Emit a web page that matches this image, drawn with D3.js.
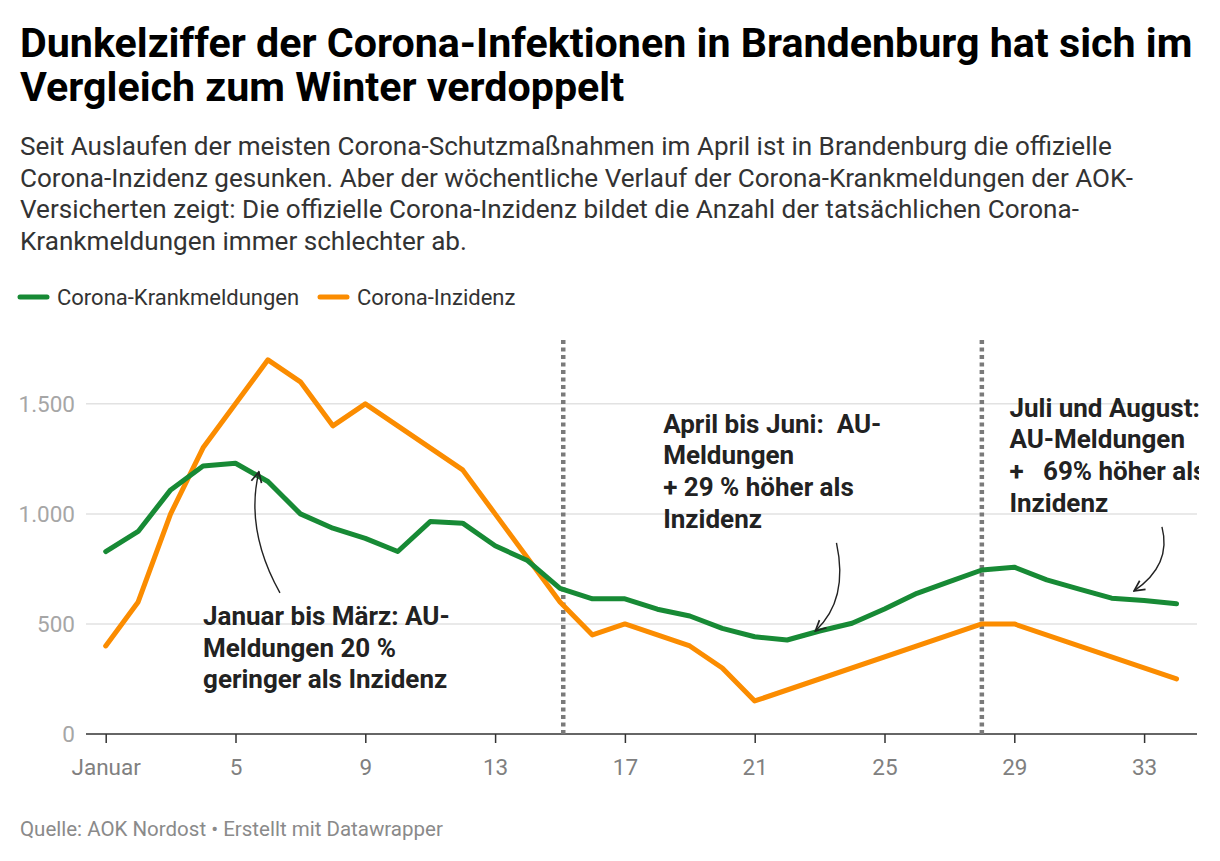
<!DOCTYPE html>
<html>
<head>
<meta charset="utf-8">
<script src="https://cdn.jsdelivr.net/npm/d3@7"></script>
<style>
  body { margin: 0; background: #fff; }
  svg { display: block; font-family: Roboto, "Noto Sans", sans-serif; }
</style>
</head>
<body>
<svg id="chart" width="1220" height="861"></svg>
<script>
// ─── Data ───
const weeks = [1,2,3,4,5,6,7,8,9,10,11,12,13,14,15,16,17,18,19,20,21,22,23,24,25,26,27,28,29,30,31,32,33,34];
const krankmeldungen = [829,920,1109,1218,1230,1147,1000,935,889,829,965,958,855,788,662,614,614,567,536,480,442,427,468,503,568,639,692,745,758,700,658,617,606,592];
const inzidenz = [400,600,1000,1300,1500,1700,1600,1400,1500,null,null,1200,1000,null,600,450,500,null,400,300,150,null,null,null,null,null,null,500,500,null,null,null,null,250];
const xTicks = [1,5,9,13,17,21,25,29,33];
const yTicks = [0,500,1000,1500];
const phaseBreaks = [15.1, 28];

const titleLines = ["Dunkelziffer der Corona-Infektionen in Brandenburg hat sich im", "Vergleich zum Winter verdoppelt"];
const subtitleLines = [
  "Seit Auslaufen der meisten Corona-Schutzmaßnahmen im April ist in Brandenburg die offizielle",
  "Corona-Inzidenz gesunken. Aber der wöchentliche Verlauf der Corona-Krankmeldungen der AOK-",
  "Versicherten zeigt: Die offizielle Corona-Inzidenz bildet die Anzahl der tatsächlichen Corona-",
  "Krankmeldungen immer schlechter ab."
];
const series = [
  { name: "Corona-Krankmeldungen", values: krankmeldungen, color: "#178a35" },
  { name: "Corona-Inzidenz", values: inzidenz, color: "#fb8c00" }
];
// annotations: text anchor + arrow (start, control, tip) in week / value units
const annotations = [
  { lines: ["Januar bis März: AU-", "Meldungen 20 %", "geringer als Inzidenz"], at: [4.0, 495],
    arrow: [[6.37, 641], [5.29, 927], [5.72, 1191]] },
  { lines: ["April bis Juni:  AU-", "Meldungen", "+ 29 % höher als", "Inzidenz"], at: [18.18, 1368],
    arrow: [[23.52, 868], [23.9, 609], [22.87, 468]] },
  { lines: ["Juli und August:", "AU-Meldungen", "+   69% höher als", "Inzidenz"], at: [28.85, 1441],
    arrow: [[33.55, 941], [33.86, 768], [32.69, 650]] }
];

const svg = d3.select("#chart");

// ─── Header ───
svg.append("g").selectAll("text").data(titleLines).enter().append("text")
  .attr("x", 20).attr("y", (d, i) => 57 + i * 44)
  .attr("font-size", 41.2).attr("font-weight", 700).attr("fill", "#000")
  .text(d => d);

svg.append("g").selectAll("text").data(subtitleLines).enter().append("text")
  .attr("x", 20).attr("y", (d, i) => 155 + i * 31.7)
  .attr("font-size", 26.1).attr("fill", "#333")
  .text(d => d);

// ─── Legend ───
const legendX = [20, 320];
const legend = svg.append("g").selectAll("g").data(series).enter().append("g")
  .attr("transform", (d, i) => `translate(${legendX[i]},297)`);
legend.append("line")
  .attr("x1", 0).attr("x2", 27)
  .attr("stroke", d => d.color).attr("stroke-width", 5).attr("stroke-linecap", "round");
legend.append("text")
  .attr("x", 37).attr("y", 8)
  .attr("font-size", 22).attr("fill", "#333")
  .text(d => d.name);

// ─── Scales ───
const x = d3.scaleLinear().domain([1, 34]).range([105.7, 105.7 + 33 * 32.45]);
const y = d3.scaleLinear().domain([0, 1790]).range([734, 340]);
const plotLeft = 86, plotRight = 1197;

// gridlines + y labels
const grid = svg.append("g");
grid.selectAll("line").data(yTicks.filter(d => d > 0)).enter().append("line")
  .attr("x1", plotLeft).attr("x2", plotRight)
  .attr("y1", d => y(d)).attr("y2", d => y(d))
  .attr("stroke", "#e2e2e2").attr("stroke-width", 1.5);
grid.selectAll("text").data(yTicks).enter().append("text")
  .attr("x", 75).attr("y", d => y(d)).attr("dy", "0.37em")
  .attr("text-anchor", "end")
  .attr("font-size", 22.5).attr("fill", "#a6a6a6")
  .text(d => d3.format(",")(d).replace(/,/g, "."));

// x axis
const xAxis = svg.append("g").attr("transform", `translate(0,${y(0)})`)
  .call(d3.axisBottom(x).tickValues(xTicks).tickSize(9).tickPadding(16)
    .tickFormat(d => d === 1 ? "Januar" : d));
xAxis.select(".domain").remove();
xAxis.selectAll(".tick line").attr("stroke", "#333").attr("stroke-width", 1.5);
xAxis.selectAll(".tick text").attr("font-size", 22.5).attr("fill", "#808080")
  .attr("font-family", "Roboto, sans-serif");
svg.append("line")
  .attr("x1", plotLeft).attr("x2", plotRight)
  .attr("y1", y(0)).attr("y2", y(0))
  .attr("stroke", "#333").attr("stroke-width", 1.5);

// phase separators
svg.append("g").selectAll("line").data(phaseBreaks).enter().append("line")
  .attr("x1", d => x(d)).attr("x2", d => x(d))
  .attr("y1", y.range()[1]).attr("y2", y(0))
  .attr("stroke", "#7a7a7a").attr("stroke-width", 4.5).attr("stroke-dasharray", "4,3.5");

// ─── Lines ───
const line = d3.line().x(d => x(d[0])).y(d => y(d[1]));
svg.append("g").selectAll("path").data(series.slice().reverse()).enter().append("path")
  .attr("d", s => line(weeks.map((w, i) => [w, s.values[i]]).filter(p => p[1] != null)))
  .attr("fill", "none").attr("stroke", s => s.color)
  .attr("stroke-width", 5).attr("stroke-linejoin", "round").attr("stroke-linecap", "round");

// ─── Annotations ───
svg.append("defs").append("clipPath").attr("id", "clip")
  .append("rect").attr("x", 0).attr("y", 0).attr("width", 1199).attr("height", 861);
svg.select("defs").append("marker")
  .attr("id", "head").attr("viewBox", "0 0 10 10")
  .attr("markerUnits", "userSpaceOnUse")
  .attr("markerWidth", 13).attr("markerHeight", 13)
  .attr("refX", 9).attr("refY", 5).attr("orient", "auto")
  .append("path").attr("d", "M1,1 L9,5 L1,9")
  .attr("fill", "none").attr("stroke", "#222").attr("stroke-width", 1.3);

const ann = svg.append("g").attr("clip-path", "url(#clip)");
annotations.forEach(a => {
  ann.append("g").selectAll("text").data(a.lines).enter().append("text")
    .attr("x", x(a.at[0])).attr("y", (d, i) => y(a.at[1]) + i * 31.6)
    .attr("font-size", 26).attr("font-weight", 700).attr("fill", "#222")
    .style("white-space", "pre")
    .text(d => d);
  const [p0, p1, p2] = a.arrow;
  ann.append("path")
    .attr("d", `M${x(p0[0])},${y(p0[1])} Q${x(p1[0])},${y(p1[1])} ${x(p2[0])},${y(p2[1])}`)
    .attr("fill", "none").attr("stroke", "#222").attr("stroke-width", 1.4)
    .attr("marker-end", "url(#head)");
});

// ─── Footer ───
svg.append("text")
  .attr("x", 20).attr("y", 836)
  .attr("font-size", 20.5).attr("fill", "#8a8a8a")
  .text("Quelle: AOK Nordost • Erstellt mit Datawrapper");
</script>
</body>
</html>
